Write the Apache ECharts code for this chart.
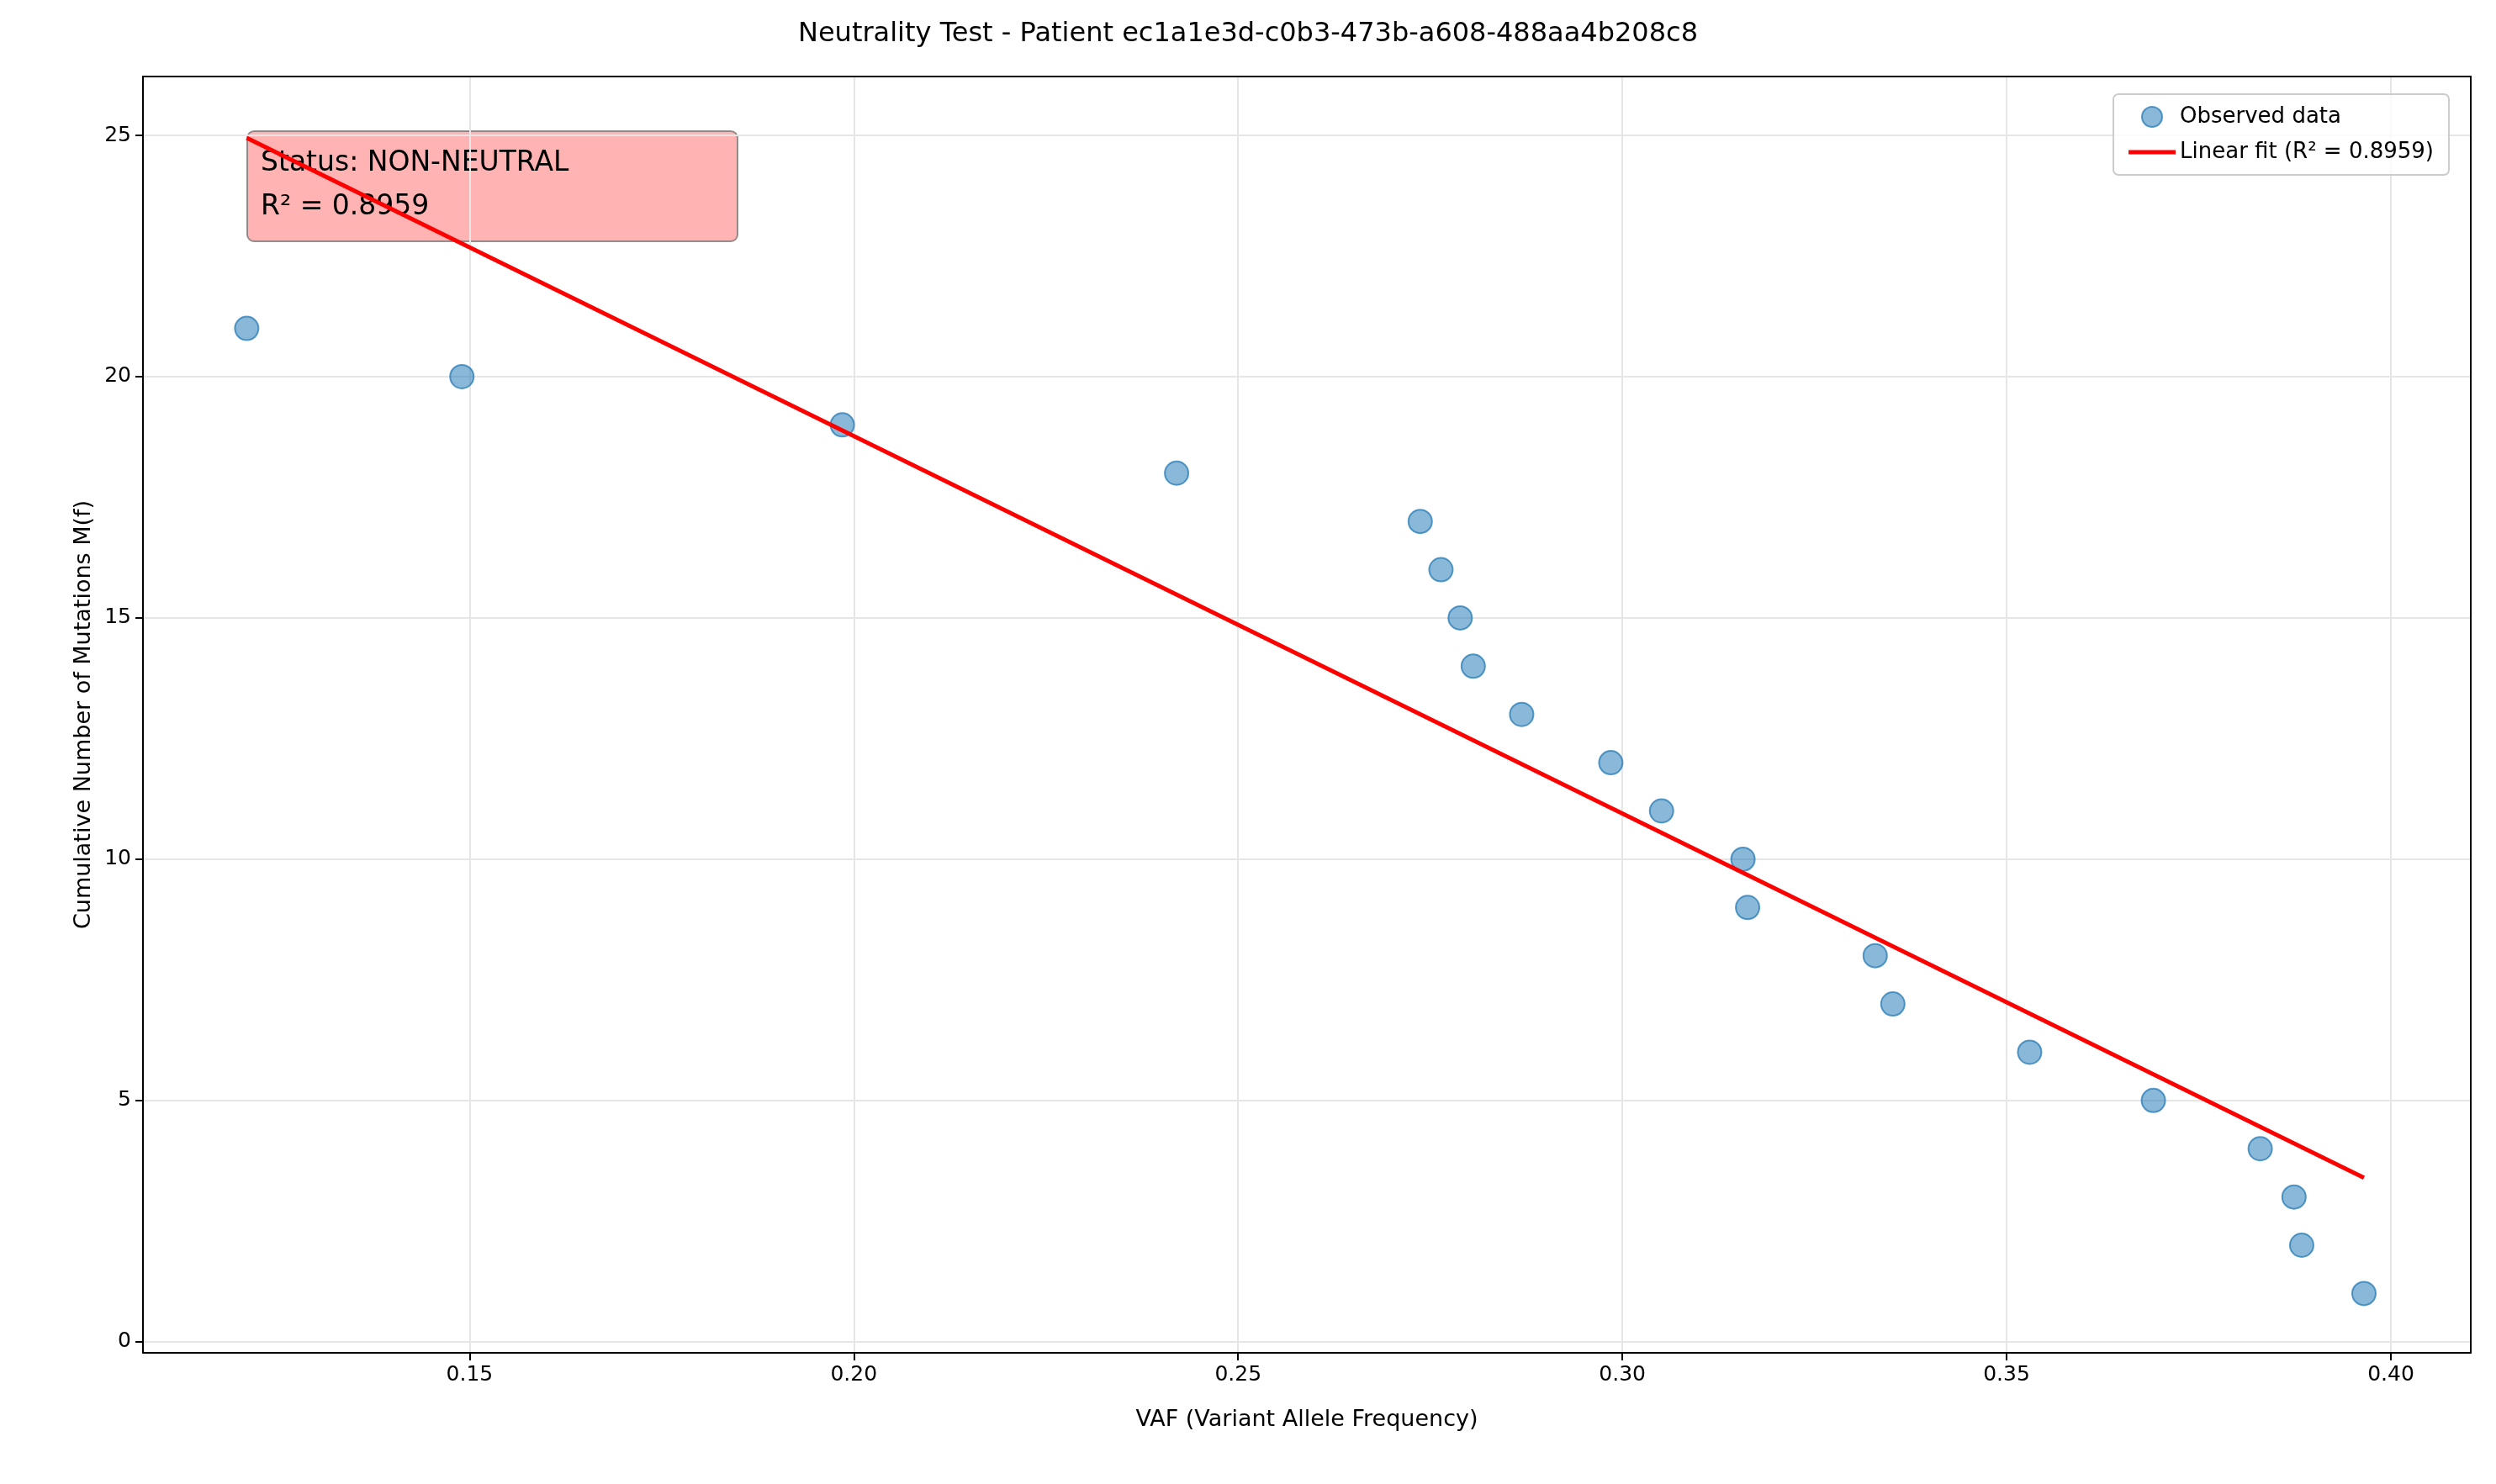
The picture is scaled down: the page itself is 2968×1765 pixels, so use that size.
<!DOCTYPE html>
<html>
<head>
<meta charset="utf-8">
<script src="https://cdn.jsdelivr.net/npm/echarts@6/dist/echarts.min.js"></script>
<style>
  html, body { margin: 0; padding: 0; background: #fff; }
  #chart { width: 2968px; height: 1765px; }
</style>
</head>
<body>
<div id="chart"></div>
<script>
  // observed points
  var vaf = [0.121, 0.149, 0.1985, 0.242, 0.2737, 0.2764, 0.2789, 0.2806, 0.2869, 0.2985,
    0.3051, 0.3157, 0.3163, 0.3329, 0.3352, 0.353, 0.3691, 0.383, 0.3874, 0.3884, 0.3965];
  var cumulative = [21, 20, 19, 18, 17, 16, 15, 14, 13, 12, 11, 10, 9, 8, 7, 6, 5, 4, 3, 2, 1];
  // linear fit end points
  var fitX = [0.121, 0.3965];
  var fitY = [24.95, 3.4];

  var chart = echarts.init(document.getElementById("chart"));
  var font = "DejaVu Sans";
  var xMin = 0.1075, xMax = 0.4104, yMin = -0.23, yMax = 26.22;

  var frame = { show: true, onZero: false, lineStyle: { color: "#000", width: 2 } };
  var tick = { show: true, length: 9, lineStyle: { color: "#000", width: 2 } };

  chart.setOption({
    animation: false,
    textStyle: { fontFamily: font },
    title: {
      text: "Neutrality Test - Patient ec1a1e3d-c0b3-473b-a608-488aa4b208c8",
      left: "center", top: 20,
      textStyle: { fontFamily: font, fontSize: 32, fontWeight: "normal", color: "#000" }
    },
    grid: { left: 170, right: 30, top: 91, bottom: 156 },
    legend: {
      right: 56, top: 112, orient: "vertical", itemGap: 16,
      backgroundColor: "rgba(255,255,255,0.8)", borderColor: "#ccc", borderWidth: 2, borderRadius: 6,
      padding: [14, 18], itemWidth: 56, itemHeight: 24,
      textStyle: { fontFamily: font, fontSize: 26, color: "#000" },
      data: [
        { name: "Observed data", icon: "circle" },
        { name: "Linear fit (R² = 0.8959)", icon: "path://M0,0 L56,0 L56,5 L0,5 Z" }
      ]
    },
    xAxis: [{
      type: "value", min: xMin, max: xMax, splitNumber: 6,
      name: "VAF (Variant Allele Frequency)", nameLocation: "middle", nameGap: 66,
      nameTextStyle: { fontSize: 27, color: "#000" },
      axisLine: frame, axisTick: tick,
      axisLabel: { fontSize: 25, color: "#000", margin: 14, showMinLabel: false, showMaxLabel: false,
        formatter: function (v) { return v.toFixed(2); } },
      splitLine: { show: true, lineStyle: { color: "#e6e6e6", width: 2 } }
    }, {
      type: "value", position: "top", min: xMin, max: xMax,
      axisLine: frame, axisTick: { show: false }, axisLabel: { show: false }, splitLine: { show: false }
    }],
    yAxis: [{
      type: "value", min: yMin, max: yMax, splitNumber: 5,
      name: "Cumulative Number of Mutations M(f)", nameLocation: "middle", nameGap: 56,
      nameTextStyle: { fontSize: 27, color: "#000" },
      axisLine: frame, axisTick: tick,
      axisLabel: { fontSize: 25, color: "#000", margin: 14, showMinLabel: false, showMaxLabel: false },
      splitLine: { show: true, lineStyle: { color: "#e6e6e6", width: 2 } }
    }, {
      type: "value", position: "right", min: yMin, max: yMax,
      axisLine: frame, axisTick: { show: false }, axisLabel: { show: false }, splitLine: { show: false }
    }],
    series: [
      {
        name: "Observed data", type: "scatter", symbolSize: 28,
        itemStyle: { color: "rgba(31,119,180,0.65)", borderColor: "rgba(31,119,180,0.9)", borderWidth: 2 },
        data: vaf.map(function (x, i) { return [x, cumulative[i]]; })
      },
      {
        name: "Linear fit (R² = 0.8959)", type: "line", showSymbol: false, symbol: "none",
        lineStyle: { color: "#ff0000", width: 5 }, itemStyle: { color: "#ff0000" },
        data: fitX.map(function (x, i) { return [x, fitY[i]]; }), z: 3
      }
    ],
    graphic: [{
      type: "group", left: 293, top: 155, z: 10,
      children: [
        { type: "rect", shape: { x: 0, y: 0, width: 583, height: 131, r: 8 },
          style: { fill: "rgba(255,128,128,0.6)", stroke: "rgba(120,120,120,0.8)", lineWidth: 2 } },
        { type: "text", left: 16, top: 12,
          style: { text: "Status: NON-NEUTRAL\nR² = 0.8959", font: "33px 'DejaVu Sans'", fill: "#000", lineHeight: 52 } }
      ]
    }]
  });
</script>
</body>
</html>
